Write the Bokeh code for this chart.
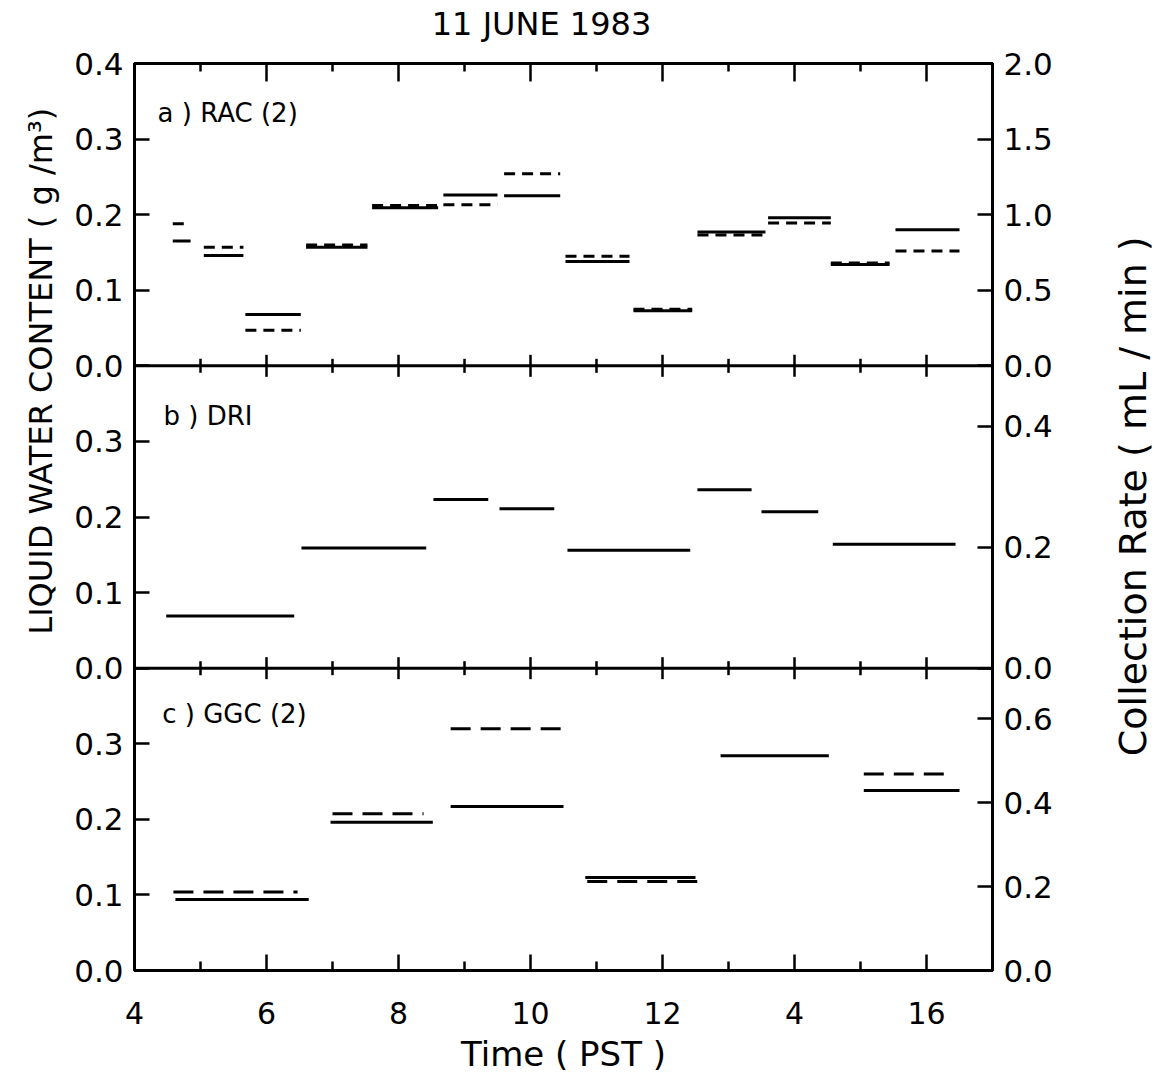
import math
from bokeh.plotting import figure
from bokeh.models import Range1d, LinearAxis, FixedTicker, Span, Label
from bokeh.layouts import row, column
from bokeh.embed import file_html
from bokeh.resources import INLINE

# ---------------- data ----------------
# a) RAC (2): sampling intervals (hours, PST); solid = LWC (g/m3), dashed = collection rate (mL/min)
rac_start = [4.58, 5.05, 5.68, 6.60, 7.60, 8.68, 9.60, 10.53, 11.56, 12.53, 13.60, 14.55, 15.53]
rac_end   = [4.85, 5.65, 6.52, 7.53, 8.60, 9.50, 10.45, 11.50, 12.45, 13.56, 14.55, 15.44, 16.50]
rac_lwc   = [0.165, 0.146, 0.068, 0.157, 0.209, 0.226, 0.225, 0.138, 0.073, 0.177, 0.196, 0.134, 0.180]
rac_rate  = [0.94, 0.785, 0.235, 0.80, 1.06, 1.065, 1.27, 0.725, 0.375, 0.865, 0.945, 0.68, 0.76]

# b) DRI
dri_start = [4.48, 6.53, 8.53, 9.53, 10.56, 12.53, 13.50, 14.58]
dri_end   = [6.42, 8.42, 9.36, 10.36, 12.42, 13.35, 14.36, 16.44]
dri_lwc   = [0.069, 0.159, 0.223, 0.211, 0.156, 0.236, 0.207, 0.164]

# c) GGC (2)
ggc_start = [4.62, 6.97, 8.79, 10.83, 12.88, 15.05]
ggc_end   = [6.64, 8.52, 10.50, 12.50, 14.52, 16.50]
ggc_lwc   = [0.094, 0.196, 0.217, 0.123, 0.284, 0.238]
ggc_rate_start = [4.59, 7.00, 8.79, 10.86, 15.05]
ggc_rate_end   = [6.47, 8.38, 10.52, 12.56, 16.41]
ggc_rate       = [0.187, 0.373, 0.576, 0.212, 0.468]

# axes
lwc_top = 0.4
rate_top = {"a": 2.0, "b": 0.5, "c": 0.72}
panel_offset = {"a": 2, "b": 1, "c": 0}
lwc_ticks = {"a": [0.0, 0.1, 0.2, 0.3, 0.4], "b": [0.0, 0.1, 0.2, 0.3], "c": [0.0, 0.1, 0.2, 0.3]}
rate_ticks = {"a": [0.0, 0.5, 1.0, 1.5, 2.0], "b": [0.0, 0.2, 0.4], "c": [0.0, 0.2, 0.4, 0.6]}
hour_ticks = [4, 6, 8, 10, 12, 14, 16]
hour_labels = ["4", "6", "8", "10", "12", "4", "16"]
hour_minor = [5, 7, 9, 11, 13, 15]

FONT = "DejaVu Sans"
W = 1154
TITLE_H = 44
H = 1081 - TITLE_H
SIDE_L = 70
SIDE_R = 70
MAIN_W = W - SIDE_L - SIDE_R

# ---------------- main figure ----------------
p = figure(width=MAIN_W, height=H, output_backend="svg", toolbar_location=None,
           x_range=Range1d(4, 17), y_range=Range1d(0, 3),
           x_axis_type=None, y_axis_type=None,
           min_border_left=134 - SIDE_L, min_border_right=SIDE_L + MAIN_W - 992,
           min_border_top=63 - TITLE_H, min_border_bottom=111)
p.outline_line_color = "black"
p.outline_line_width = 3

for k in ["a", "b", "c"]:
    off = panel_offset[k]
    p.extra_y_ranges["lwc_" + k] = Range1d(-off * lwc_top, (3 - off) * lwc_top)
    T = rate_top[k]
    p.extra_y_ranges["rate_" + k] = Range1d(-off * T, (3 - off) * T)

lt, lo = [], {}
for k in ["c", "b", "a"]:
    for v in lwc_ticks[k]:
        pos = round(panel_offset[k] + v / lwc_top, 9)
        lt.append(pos)
        lo[pos] = "%.1f" % v
rt, ro = [], {}
for k in ["c", "b", "a"]:
    for v in rate_ticks[k]:
        pos = round(panel_offset[k] + v / rate_top[k], 9)
        rt.append(pos)
        ro[pos] = "%.1f" % v


def style_y(ax):
    ax.axis_line_width = 3
    ax.major_tick_in = 15
    ax.major_tick_out = 0
    ax.major_tick_line_width = 2.5
    ax.minor_tick_line_color = None
    ax.major_label_standoff = 11
    ax.major_label_text_font = FONT
    ax.major_label_text_font_size = "31px"
    ax.major_label_text_color = "black"


left = LinearAxis(ticker=FixedTicker(ticks=lt), major_label_overrides=lo)
style_y(left)
p.add_layout(left, "left")
right = LinearAxis(ticker=FixedTicker(ticks=rt), major_label_overrides=ro)
style_y(right)
p.add_layout(right, "right")

hour_over = {t: s for t, s in zip(hour_ticks, hour_labels)}
bottom = LinearAxis(ticker=FixedTicker(ticks=hour_ticks, minor_ticks=hour_minor),
                    major_label_overrides=hour_over, axis_label="Time ( PST )")
bottom.axis_line_width = 3
bottom.major_tick_in = 16
bottom.major_tick_out = 0
bottom.minor_tick_in = 9
bottom.minor_tick_out = 0
bottom.major_tick_line_width = 2.5
bottom.minor_tick_line_width = 2.5
bottom.major_label_standoff = 31
bottom.major_label_text_font = FONT
bottom.major_label_text_font_size = "30px"
bottom.major_label_text_color = "black"
bottom.axis_label_standoff = 7
bottom.axis_label_text_font = FONT
bottom.axis_label_text_font_size = "34px"
bottom.axis_label_text_font_style = "normal"
bottom.axis_label_text_color = "black"
p.add_layout(bottom, "below")

top = LinearAxis(ticker=FixedTicker(ticks=hour_ticks, minor_ticks=hour_minor),
                 major_label_overrides={t: "" for t in hour_ticks})
top.axis_line_width = 3
top.major_tick_in = 18
top.major_tick_out = 0
top.minor_tick_in = 8
top.minor_tick_out = 0
top.major_tick_line_width = 2.5
top.minor_tick_line_width = 2.5
top.major_label_text_color = None
top.major_label_text_font_size = "1px"
top.major_label_standoff = 0
p.add_layout(top, "above")

# panel separators with ticks crossing them
for b in [1, 2]:
    p.add_layout(Span(location=b, dimension="width", line_color="black", line_width=3))
    p.scatter(x=hour_ticks[1:], y=[b] * (len(hour_ticks) - 1), marker="dash", angle=math.pi / 2,
              size=22, line_color="black", line_width=2.5)
    p.scatter(x=hour_minor, y=[b] * len(hour_minor), marker="dash", angle=math.pi / 2,
              size=14, line_color="black", line_width=2.5)

# ---------------- data marks ----------------
LW = 3
p.segment(x0=rac_start, x1=rac_end, y0=rac_lwc, y1=rac_lwc, y_range_name="lwc_a",
          line_color="black", line_width=LW)
p.segment(x0=rac_start, x1=rac_end, y0=rac_rate, y1=rac_rate, y_range_name="rate_a",
          line_color="black", line_width=LW, line_dash="11 7")
p.segment(x0=dri_start, x1=dri_end, y0=dri_lwc, y1=dri_lwc, y_range_name="lwc_b",
          line_color="black", line_width=LW)
p.segment(x0=ggc_start, x1=ggc_end, y0=ggc_lwc, y1=ggc_lwc, y_range_name="lwc_c",
          line_color="black", line_width=LW)
p.segment(x0=ggc_rate_start, x1=ggc_rate_end, y0=ggc_rate, y1=ggc_rate, y_range_name="rate_c",
          line_color="black", line_width=LW, line_dash="20 10")


def lab(fig, x, y, text, size, angle=0.0, align="left", y_range_name="default"):
    fig.add_layout(Label(x=x, y=y, text=text, text_font=FONT, text_font_size=size,
                         text_color="black", text_align=align, text_baseline="middle",
                         angle=angle, y_range_name=y_range_name))


lab(p, 4.35, 0.334, "a ) RAC (2)", "26px", y_range_name="lwc_a")
lab(p, 4.44, 0.333, "b ) DRI", "26px", y_range_name="lwc_b")
lab(p, 4.42, 0.339, "c ) GGC (2)", "26px", y_range_name="lwc_c")


# ---------------- text-only figures (title and side labels) ----------------
def text_fig(w, h):
    f = figure(width=w, height=h, output_backend="svg", toolbar_location=None,
               x_range=Range1d(0, w), y_range=Range1d(0, h),
               x_axis_type=None, y_axis_type=None, min_border=0)
    f.outline_line_color = None
    f.grid.visible = False
    return f


ft = text_fig(W, TITLE_H)
lab(ft, 541, TITLE_H - 23, "11 JUNE 1983", "32px", align="center")

fl = text_fig(SIDE_L, H)
lab(fl, 40, H - (390 - TITLE_H), "LIQUID WATER CONTENT  ( g /m³)", "32px",
    angle=math.pi / 2, align="center")
fr = text_fig(SIDE_R, H)
lab(fr, 1132 - (SIDE_L + MAIN_W), H - (525 - TITLE_H), "Collection  Rate  ( mL / min )", "38px",
    angle=math.pi / 2, align="center")

layout = column(ft, row(fl, p, fr, spacing=0), spacing=0)
open("out.html", "w").write(file_html(layout, INLINE))
